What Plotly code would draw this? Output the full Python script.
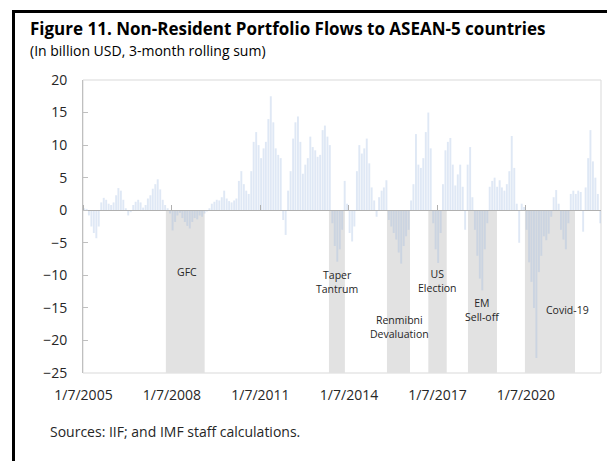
import plotly.graph_objects as go
import pandas as pd

# ---------------- data ----------------
months = pd.date_range("2005-01-01", "2022-07-01", freq="MS") + pd.Timedelta(days=14)

flows = [
    # 2005
    0.3, 0.2, -0.8, -2.5, -3.5, -4.3, -2.5, 1.2, 1.9, 1.6, 1.0, 0.8,
    # 2006
    1.2, 2.3, 3.4, 3.0, 1.6, 0.3, -0.8, -0.3, 0.8, 1.3, 1.6, 1.2,
    # 2007
    0.4, 0.8, 1.8, 2.3, 3.3, 4.0, 4.75, 3.2, 1.6, 0.8, 0.3, -0.5,
    # 2008
    -3.1, -1.8, -0.8, -0.4, -1.2, -1.8, -2.4, -2.8, -1.8, -1.2, -1.4, -0.8,
    # 2009
    -1.0, -0.5, -0.2, 0.3, 1.0, 1.3, 1.6, 1.5, 2.0, 3.0, 1.8, 1.4,
    # 2010
    1.2, 1.5, 1.8, 4.5, 6.0, 4.0, 3.0, 2.5, 6.0, 10.5, 12.0, 10.0,
    # 2011
    8.0, 9.5, 10.5, 14.0, 17.5, 13.5, 9.5, 8.5, 8.0, -1.5, -3.8, 3.0,
    # 2012
    6.0, 11.0, 13.5, 14.4, 10.5, 5.6, 7.0, 8.0, 11.3, 9.7, 9.2, 8.2,
    # 2013
    8.5, 12.3, 13.0, 11.3, 10.0, -2.0, -5.5, -7.9, -6.0, -3.0, 4.5, 1.0,
    # 2014
    -3.5, -4.8, -2.5, 6.0, 10.0, 8.7, 9.5, 11.0, 7.2, 3.5, 1.5, -1.0,
    # 2015
    2.0, 3.0, 3.5, 4.6, -1.5, -2.5, -3.5, -4.5, -6.5, -8.2, -5.5, -4.0,
    # 2016
    -3.0, 1.5, 4.0, 11.7, 7.0, 6.5, 8.0, 12.0, 15.0, 9.5, -2.0, -6.0,
    # 2017
    -8.1, -3.5, 4.0, 9.2, 10.5, 11.1, 7.0, 3.8, 5.5, 7.0, 3.6, -3.0,
    # 2018
    7.0, 9.7, 2.0, -3.0, -7.0, -10.5, -12.3, -6.0, -2.0, 3.6, 4.5, 5.0,
    # 2019
    3.6, 4.6, 3.5, 3.0, 4.0, 6.0, 11.4, 6.5, 1.0, -5.0, 1.0, 0.5,
    # 2020
    -3.0, -8.0, -11.0, -15.0, -22.7, -9.5, -7.0, -4.0, -4.6, -3.6, -1.0, 2.0,
    # 2021
    3.1, 1.0, -3.0, -4.5, -6.0, -2.0, 2.5, 3.0, 2.5, 3.0, 2.8, -3.3,
    # 2022
    3.5, 8.0, 12.3, 7.5, 5.0, 2.5, -2.0,
]

event_start = ["2007-10-24", "2013-05-04", "2015-04-22", "2016-09-15", "2018-01-19", "2019-12-25"]
event_end   = ["2009-02-15", "2013-11-17", "2016-02-01", "2017-05-01", "2019-01-13", "2021-09-05"]
shade_floor = -25

label_text = ["GFC", "Taper<br>Tantrum", "Renmibni<br>Devaluation", "US<br>Election", "EM<br>Sell-off", "Covid-19"]
label_x = ["2008-07-07", "2013-08-07", "2015-09-24", "2017-01-01", "2018-07-20", "2021-06-03"]
label_y = [-9.5, -11.0, -18.0, -10.8, -15.3, -15.3]

tick_dates = ["2005-01-07", "2008-01-07", "2011-01-07", "2014-01-07", "2017-01-07", "2020-01-07"]
tick_labels = ["1/7/2005", "1/7/2008", "1/7/2011", "1/7/2014", "1/7/2017", "1/7/2020"]

y_ticks = [-25, -20, -15, -10, -5, 0, 5, 10, 15, 20]

# ---------------- layout helpers ----------------
W, H = 615, 461
OFF = 8  # page body margin: figure origin sits at (8, 8) of the screenshot
ML, MR, MT, MB = 35, 22, 72, 96
PW, PH = W - ML - MR, H - MT - MB


def px(xp):
    """screen x (reference coords) -> paper fraction"""
    return (xp - OFF - ML) / PW


def py(yp):
    """screen y (reference coords) -> paper fraction"""
    return (H - MB - (yp - OFF)) / PH


FONT = "Open Sans"
TXT = "#262626"

fig = go.Figure()

fig.add_trace(go.Bar(
    x=months, y=flows,
    marker=dict(color="rgba(150,180,222,0.30)", line=dict(width=0)),
    hoverinfo="x+y", showlegend=False,
))

# helper trace for the tick axis along the zero line
fig.add_trace(go.Scatter(
    x=tick_dates, y=[0] * len(tick_dates), xaxis="x2", yaxis="y",
    mode="markers", marker=dict(opacity=0), hoverinfo="skip", showlegend=False,
))

shapes = []
for s, e in zip(event_start, event_end):
    shapes.append(dict(type="rect", xref="x", yref="y", x0=s, x1=e, y0=shade_floor, y1=0,
                       fillcolor="#e2e2e2", line=dict(width=0), layer="below"))

# plot-area border
shapes.append(dict(type="rect", xref="x domain", yref="y domain", x0=0, x1=1, y0=0, y1=1,
                   line=dict(color="#d9d9d9", width=1), layer="below"))

# black frame (top and left)
FRAME_TOP = 11.5
shapes.append(dict(type="line", xref="paper", yref="paper",
                   x0=px(12), x1=1.03, y0=py(FRAME_TOP), y1=py(FRAME_TOP),
                   line=dict(color="black", width=3), layer="above"))
shapes.append(dict(type="line", xref="paper", yref="paper",
                   x0=px(13.5), x1=px(13.5), y0=py(H + OFF), y1=py(FRAME_TOP - 1.5),
                   line=dict(color="black", width=3), layer="above"))

annotations = []
for t, x, y in zip(label_text, label_x, label_y):
    annotations.append(dict(text=t, x=x, y=y, xref="x", yref="y", showarrow=False,
                            font=dict(family=FONT, size=10.5, color=TXT), align="center"))

annotations.append(dict(text="<b>Figure 11. Non-Resident Portfolio Flows to ASEAN-5 countries</b>",
                        x=px(28), y=py(28.5), xref="paper", yref="paper", xanchor="left", yanchor="middle",
                        showarrow=False, font=dict(family=FONT, size=17, color="black")))
annotations.append(dict(text="(In billion USD, 3-month rolling sum)",
                        x=px(28), y=py(50.5), xref="paper", yref="paper", xanchor="left", yanchor="middle",
                        showarrow=False, font=dict(family=FONT, size=14, color="black")))
annotations.append(dict(text="Sources: IIF; and IMF staff calculations.",
                        x=px(48), y=py(431), xref="paper", yref="paper", xanchor="left", yanchor="middle",
                        showarrow=False, font=dict(family=FONT, size=14, color=TXT)))

fig.update_layout(
    width=W, height=H,
    margin=dict(l=ML, r=MR, t=MT, b=MB, autoexpand=False),
    paper_bgcolor="white", plot_bgcolor="white",
    bargap=0.15,
    showlegend=False,
    shapes=shapes,
    annotations=annotations,
    font=dict(family=FONT, color=TXT),
    xaxis=dict(
        type="date", domain=[px(83), 1],
        range=["2005-01-01", "2022-07-24"],
        tickvals=tick_dates, ticktext=tick_labels,
        ticks="", showline=False, showgrid=False, zeroline=False,
        tickfont=dict(family=FONT, size=14, color=TXT),
        ticklabelstandoff=12,
    ),
    xaxis2=dict(
        type="date", overlaying="x", matches="x", anchor="free",
        position=(0 - y_ticks[0]) / (y_ticks[-1] - y_ticks[0]),
        side="top", showline=True, linecolor="#b0b0b0", linewidth=1,
        ticks="outside", ticklen=5, tickcolor="#b0b0b0", tickwidth=1,
        tickvals=tick_dates, showticklabels=False, showgrid=False, zeroline=False,
    ),
    yaxis=dict(
        domain=[0, 1], range=[y_ticks[0], y_ticks[-1]], tickvals=y_ticks,
        ticks="inside", ticklen=5, tickcolor="#bfbfbf", tickwidth=1,
        showline=True, linecolor="#bfbfbf", linewidth=1,
        showgrid=False, zeroline=False,
        tickfont=dict(family=FONT, size=14, color=TXT),
        ticklabelstandoff=12,
    ),
)

fig.write_html("out.html")
